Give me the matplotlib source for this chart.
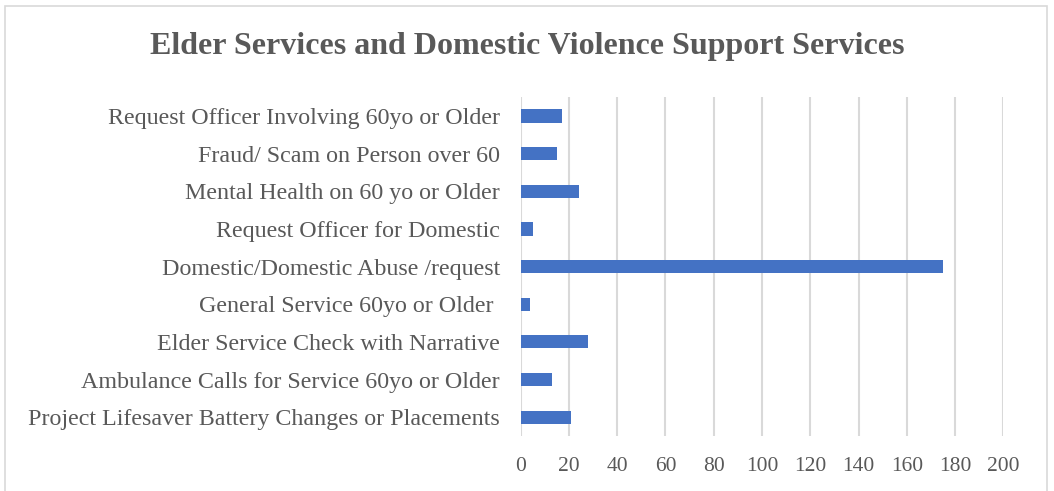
import matplotlib.pyplot as plt
from matplotlib.patches import Rectangle

categories = [
    "Request Officer Involving 60yo or Older",
    "Fraud/ Scam on Person over 60",
    "Mental Health on 60 yo or Older",
    "Request Officer for Domestic",
    "Domestic/Domestic Abuse /request",
    "General Service 60yo or Older ",
    "Elder Service Check with Narrative",
    "Ambulance Calls for Service 60yo or Older",
    "Project Lifesaver Battery Changes or Placements",
]
values = [17, 15, 24, 5, 175, 4, 28, 13, 21]
xticks = list(range(0, 201, 20))

plt.rcParams['font.family'] = ['Liberation Serif', 'DejaVu Serif']
grey = '#595959'

fig = plt.figure(figsize=(10.54, 4.91), dpi=100)
ax = fig.add_axes([0.494, 0.112, 0.458, 0.690])

ypos = list(range(len(categories)))
ax.barh(ypos, values, height=0.35, color='#4472C4', zorder=3)
ax.set_ylim(len(categories) - 0.5, -0.5)
ax.set_yticks(ypos)
ax.set_yticklabels(categories, fontsize=17.3, color=grey)
ax.set_xlim(0, 200)
ax.set_xticks(xticks)
ax.set_xticklabels([str(t) for t in xticks], fontsize=15.5, color=grey)
ax.tick_params(length=0)
ax.tick_params(axis='y', pad=15)
ax.tick_params(axis='x', pad=15)
ax.grid(axis='x', color='#d9d9d9', linewidth=1.5, zorder=0)
for s in ax.spines.values():
    s.set_visible(False)

fig.text(0.5, 0.906, "Elder Services and Domestic Violence Support Services",
         ha='center', va='center', fontsize=23, fontweight='bold', color=grey)

# outer chart frame
fig.patches.append(Rectangle((0.005, -0.05), 0.988, 1.038, transform=fig.transFigure,
                             fill=False, edgecolor='#d9d9d9', linewidth=1.2))

fig.savefig("out.png", dpi=100)
